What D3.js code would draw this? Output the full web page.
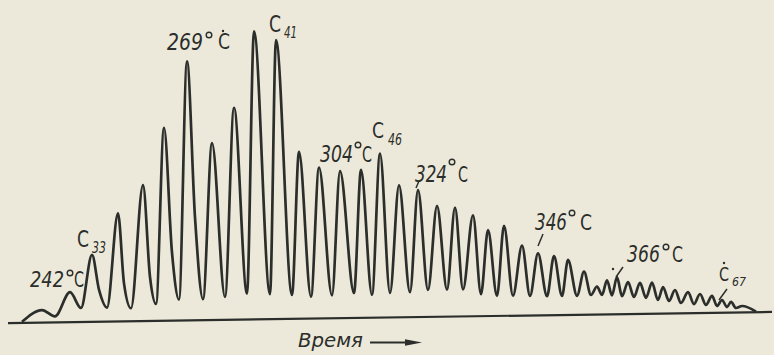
<!DOCTYPE html>
<html><head><meta charset="utf-8">
<script src="https://cdn.jsdelivr.net/npm/d3@7/dist/d3.min.js"></script>
<style>html,body{margin:0;padding:0;background:#ece9da;} svg{display:block;}</style>
</head><body>
<svg id="chart" width="774" height="355"></svg>
<script>
// ---- Data (time in arbitrary minutes, signal in arbitrary units above baseline)
const peakTime   = [3.2, 6.0, 8.2, 10.8, 13.3, 15.4, 17.7, 20.2, 22.4, 24.4,
                    26.6, 28.9, 30.9, 33.0, 35.1, 37.0, 38.9, 40.8, 42.7, 44.5,
                    46.3, 47.8, 49.4, 51.2, 52.8, 54.4, 55.8, 57.4, 58.7, 59.7,
                    60.7, 61.8, 63.0, 64.2, 65.3, 66.5, 67.8, 69.0, 70.2, 71.2,
                    72.1, 73.2];
const peakSignal = [12.5, 30, 67, 108, 136, 193, 259, 177, 212, 288,
                    279, 167, 151, 147, 148, 164, 132, 127, 111, 109,
                    101, 86, 90, 70, 62, 59, 55, 43, 28, 34,
                    37, 32, 31, 31, 26.5, 23.4, 21, 19, 17, 12.7,
                    10.6, 6.4];
const valleyTime   = [1.2, 4.5, 7.1, 9.7, 12.1, 14.6, 16.9, 19.3, 21.5, 23.7, 26.0,
                      28.2, 30.1, 32.2, 34.4, 36.2, 38.0, 40.0, 41.8, 43.7, 45.3,
                      47.1, 48.7, 50.3, 52.0, 53.7, 55.2, 56.7, 58.1, 59.2, 60.2,
                      61.2, 62.4, 63.6, 64.8, 65.9, 67.1, 68.4, 69.6, 70.7, 71.7,
                      72.6, 74.6];
const valleySignal = [1, 6, 14, 14, 13, 17, 21, 21, 23, 26, 25,
                      24, 22, 23, 25, 23, 24.5, 25, 27, 27, 27,
                      22, 20, 20, 19.5, 19, 19, 19, 19.6, 19.5, 19,
                      18, 17, 16, 13.6, 12.5, 10.3, 9, 8, 6.8, 5.6,
                      4.5, 0.5];
const shoulderTime   = [8.9, 11.4, 14.0, 16.2, 18.5];
const shoulderSignal = [32, 38, 44, 68, 103];
const axisLabel = "Время";

// ---- Layout / style
const W = 774, H = 355;
const ink = "#2b2e2a";
const svg = d3.select("#chart");
svg.append("rect").attr("width", W).attr("height", H).attr("fill", "#ece9da");

const x = d3.scaleLinear().domain([0, 76]).range([10, 770]);
const y = d3.scaleLinear().domain([0, 300]).range([323, 23]);

// slight baseline drift / scan tilt
const g = svg.append("g")
  .attr("transform", "translate(10,323) skewY(-0.829) translate(-10,-323)");

// baseline
g.append("line")
  .attr("x1", x(-0.2)).attr("x2", x(76.2))
  .attr("y1", y(0)).attr("y2", y(0))
  .attr("stroke", ink).attr("stroke-width", 2.2);

// trace points: peaks, valleys and shoulders merged in time order
const pts = [];
peakTime.forEach((t, i) => pts.push([t, peakSignal[i]]));
valleyTime.forEach((t, i) => pts.push([t, valleySignal[i]]));
shoulderTime.forEach((t, i) => pts.push([t, shoulderSignal[i]]));
pts.sort((a, b) => a[0] - b[0]);

const line = d3.line().x(d => x(d[0])).y(d => y(d[1])).curve(d3.curveMonotoneX);
g.append("path").attr("d", line(pts))
  .attr("fill", "none").attr("stroke", ink).attr("stroke-width", 2.7)
  .attr("stroke-linejoin", "round");

// ---- annotations
const fontFam = '"Liberation Sans Narrow", "DejaVu Sans Condensed", "Liberation Sans", sans-serif';
function txt(px, py, s, size, w, italic) {
  svg.append("text").attr("x", px).attr("y", py)
    .attr("font-family", fontFam).attr("font-size", size)
    .attr("textLength", w).attr("lengthAdjust", "spacingAndGlyphs")
    .attr("font-style", italic ? "italic" : "normal")
    .attr("fill", ink).text(s);
}
function deg(cx, cy) {
  svg.append("circle").attr("cx", cx).attr("cy", cy).attr("r", 2.8)
    .attr("fill", "none").attr("stroke", ink).attr("stroke-width", 1.4);
}
function dot(cx, cy) {
  svg.append("circle").attr("cx", cx).attr("cy", cy).attr("r", 1.2).attr("fill", ink);
}
function tick(x1, y1, x2, y2) {
  svg.append("line").attr("x1", x1).attr("y1", y1).attr("x2", x2).attr("y2", y2)
    .attr("stroke", ink).attr("stroke-width", 1.5);
}

// 242°C
txt(30, 287, "242", 22, 34, true); deg(70, 273); txt(74, 287, "C", 21, 10, false);
// C33
txt(77, 247, "C", 23, 12, false); txt(92, 253, "33", 15, 14, true);
// 269°C
txt(167, 50, "269", 23, 36, true); deg(209, 35); txt(218, 49, "C", 21, 12, false); dot(223, 31);
// C41
txt(269, 32, "C", 23, 12, false); txt(284, 38, "41", 15, 13, true);
// 304°C
txt(320, 162, "304", 23, 33, true); deg(358, 145); txt(362, 162, "C", 21, 10, false);
// C46
txt(372, 138, "C", 22, 12, false); txt(388, 145, "46", 15, 14, true);
// 324°C
txt(415, 182, "324", 23, 32, true); deg(452, 162); txt(458, 182, "C", 21, 10, false);
tick(419, 181, 416, 188);
// 346°C
txt(535, 230, "346", 23, 32, true); deg(572, 213); txt(580, 230, "C", 21, 12, false);
tick(543, 234, 538, 246);
// 366°C
txt(627, 262, "366", 23, 33, true); deg(666, 247); txt(672, 262, "C", 21, 11, false);
tick(623, 267, 616, 277); dot(613, 269);
// C67
txt(719, 281, "C", 19, 10, false); dot(724, 263); txt(732, 286, "67", 13, 14, true);
tick(727, 289, 719, 300);

// Время →
txt(298, 347, axisLabel, 20, 65, true);
svg.append("line").attr("x1", 370).attr("x2", 410).attr("y1", 342.5).attr("y2", 342.5)
  .attr("stroke", ink).attr("stroke-width", 2);
svg.append("path").attr("d", "M405,339.2 L422,342.5 L405,345.8 Z").attr("fill", ink);
</script>
</body></html>
